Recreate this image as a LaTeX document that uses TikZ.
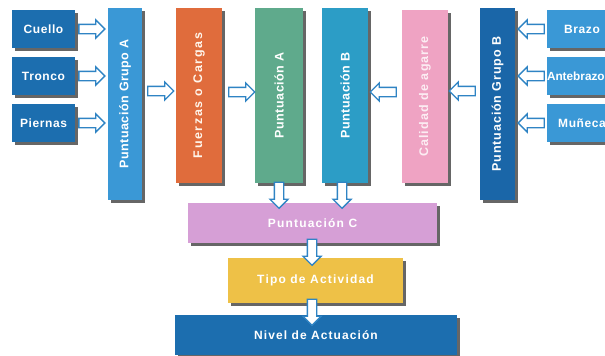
\documentclass[tikz,border=0pt]{standalone}
\usepackage{fontspec}
\setsansfont{Liberation Sans}
\usepackage{graphicx}
\usetikzlibrary{shapes.arrows,shadows,positioning}
\definecolor{deep}{HTML}{1C6EAF}
\definecolor{sky}{HTML}{3A98D6}
\definecolor{navy}{HTML}{1A66A8}
\definecolor{rust}{HTML}{E06C3C}
\definecolor{mint}{HTML}{5FAA8C}
\definecolor{teal}{HTML}{2C9DC6}
\definecolor{rose}{HTML}{EFA3C3}
\definecolor{lilac}{HTML}{D69FD6}
\definecolor{gold}{HTML}{EEC147}
\definecolor{arrowblue}{HTML}{2F84C4}
\tikzset{blockbox/.style={inner sep=0pt,text=white,drop shadow={shadow xshift=2.5pt,shadow yshift=-2.5pt,fill=black!80,opacity=.75}},hbox/.style={blockbox,minimum width=63pt,minimum height=38pt,font=\sffamily\bfseries\fontsize{12}{12}\selectfont\addfontfeature{LetterSpace=5}},vbox/.style={blockbox,minimum width=46pt,minimum height=175pt,font=\sffamily\bfseries\fontsize{12.5}{12.5}\selectfont\addfontfeature{LetterSpace=4}},wbox/.style={blockbox,minimum height=40pt,font=\sffamily\bfseries\fontsize{12}{12}\selectfont\addfontfeature{LetterSpace=10}},flowarrow/.style={single arrow,draw=arrowblue,fill=white,line width=1.3pt,minimum height=26pt,inner sep=4pt,single arrow head extend=4.5pt}}

\begin{document}
\begin{tikzpicture}[x=1pt,y=-1pt]
\clip (0,0) rectangle (605,356);
\fill[white] (0,0) rectangle (605,356);
\node[hbox,fill=deep] (cuello) at (43.5,29) {Cuello};
\node[hbox,fill=deep] (tronco) at (43.5,76) {Tronco};
\node[hbox,fill=deep] (piernas) at (43.5,123) {Piernas};
\node[vbox,fill=sky,minimum width=34pt,minimum height=192pt] (grupoA) at (125,104) {\rotatebox{90}{Puntuación Grupo A}};
\node[vbox,fill=rust,text=white!92!orange] (fuerzas) at (199,95.5) {\rotatebox{90}{\addfontfeature{LetterSpace=13}Fuerzas o Cargas}};
\node[vbox,fill=mint,minimum width=48pt] (puntA) at (279,95.5) {\rotatebox{90}{Puntuación A}};
\node[vbox,fill=teal] (puntB) at (345,95.5) {\rotatebox{90}{Puntuación B}};
\node[vbox,fill=rose,text=white!80!rose,minimum height=173pt] (calidad) at (425,96.5) {\rotatebox{90}{\addfontfeature{LetterSpace=9}Calidad de agarre}};
\node[vbox,fill=navy,minimum width=35pt,minimum height=192pt] (grupoB) at (497.5,104) {\rotatebox{90}{\addfontfeature{LetterSpace=7}Puntuación Grupo B}};
\node[hbox,fill=sky,minimum width=70pt] (brazo) at (582,29) {Brazo};
\node[hbox,fill=sky,minimum width=70pt,text width=70pt,align=left,font=\sffamily\bfseries\fontsize{11.8}{12}\selectfont] (antebrazo) at (582,76) {Antebrazo};
\node[hbox,fill=sky,minimum width=70pt] (muneca) at (582,123) {Muñeca};
\node[wbox,fill=lilac,minimum width=249pt] (puntC) at (312.5,223) {Puntuación C};
\node[wbox,fill=gold,minimum width=175pt,minimum height=45pt] (tipo) at (315.5,280.5) {Tipo de Actividad};
\node[wbox,fill=deep,minimum width=282pt,font=\sffamily\bfseries\fontsize{12}{12}\selectfont\addfontfeature{LetterSpace=9}] (nivel) at (316,335) {Nivel de Actuación};
\node[flowarrow,right=3pt of cuello] (a1) {};
\node[flowarrow,right=3pt of tronco] (a2) {};
\node[flowarrow,right=3pt of piernas] (a3) {};
\node[flowarrow] (a4) at (158.5,91) {};
\node[flowarrow] (a5) at (239.5,92) {};
\node[flowarrow,shape border rotate=180] (a6) at (385.5,92) {};
\node[flowarrow,shape border rotate=180] (a7) at (464.5,91) {};
\node[flowarrow,shape border rotate=180,left=2pt of brazo] (a8) {};
\node[flowarrow,shape border rotate=180,left=2pt of antebrazo] (a9) {};
\node[flowarrow,shape border rotate=180,left=2pt of muneca] (a10) {};
\node[flowarrow,shape border rotate=270] (a11) at (279,193) {};
\node[flowarrow,shape border rotate=270] (a12) at (342,193) {};
\node[flowarrow,shape border rotate=270] (a13) at (312,250) {};
\node[flowarrow,shape border rotate=270] (a14) at (312,310) {};
\end{tikzpicture}
\end{document}
